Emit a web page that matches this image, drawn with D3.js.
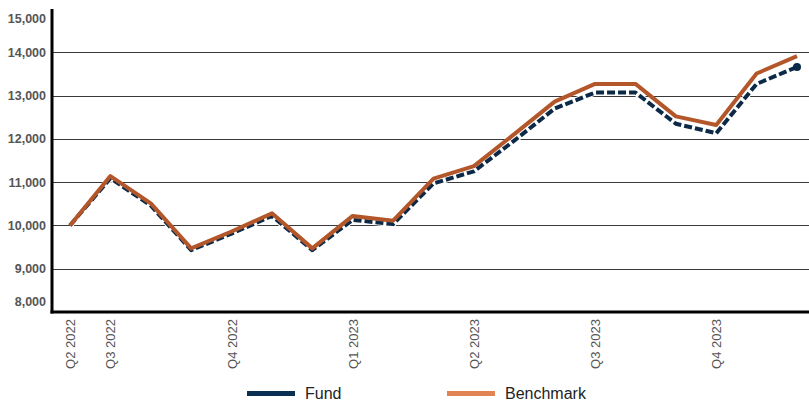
<!DOCTYPE html>
<html>
<head>
<meta charset="utf-8">
<script src="https://cdn.jsdelivr.net/npm/d3@7"></script>
<style>
  body { margin: 0; background: #fff; }
  svg { display: block; }
</style>
</head>
<body>
<div class="chart"></div>
<script>
// Data
var periodLabels = ["Q2 2022", "Q3 2022", "", "", "Q4 2022", "", "", "Q1 2023", "", "", "Q2 2023",
                    "", "", "Q3 2023", "", "", "Q4 2023", "", ""];
var fundValues = [10000, 11090, 10460, 9430, 9810, 10220, 9430, 10130, 10030, 10970,
                  11250, 11960, 12700, 13070, 13070, 12350, 12130, 13270, 13660];
var benchmarkValues = [10000, 11140, 10510, 9470, 9860, 10280, 9470, 10220, 10110, 11080,
                       11370, 12110, 12860, 13270, 13270, 12520, 12320, 13510, 13910];
var yTickValues = [8000, 9000, 10000, 11000, 12000, 13000, 14000, 15000];
var seriesNames = ["Fund", "Benchmark"];

var svgWidth = 809;
var svgHeight = 403;
var margin = { top: 9, right: 0, bottom: 91, left: 52 };
var width = svgWidth - margin.left - margin.right;
var height = svgHeight - margin.top - margin.bottom;

var svg = d3.select(".chart")
    .append("svg")
    .attr("width", svgWidth)
    .attr("height", svgHeight);

var chartGroup = svg.append("g")
    .attr("transform", `translate(${margin.left}, ${margin.top})`);

// Scales
var xScale = d3.scaleLinear()
    .domain([0, periodLabels.length - 1])
    .range([18, width - 12]);

var yScale = d3.scaleLinear()
    .domain([8000, 15000])
    .range([height, 0]);

// Gridlines (none at the top / bottom)
chartGroup.append("g")
    .selectAll("line")
    .data(yTickValues.slice(1, -1))
    .enter()
    .append("line")
    .attr("x1", 0)
    .attr("x2", width)
    .attr("y1", d => Math.round(yScale(d)) + 0.5)
    .attr("y2", d => Math.round(yScale(d)) + 0.5)
    .attr("stroke", "#3a3a3a")
    .attr("stroke-width", 1.2);

// Y axis labels
var leftAxis = d3.axisLeft(yScale)
    .tickValues(yTickValues)
    .tickFormat(d3.format(","))
    .tickSize(0)
    .tickPadding(6);

var yAxisG = chartGroup.append("g").call(leftAxis);
yAxisG.select(".domain").remove();
yAxisG.selectAll("text")
    .style("font-family", "'Liberation Sans', Arial, sans-serif")
    .style("font-size", "12.5px")
    .style("font-weight", "bold")
    .attr("fill", "#555");
// end labels are nudged inside the plot box
yAxisG.selectAll(".tick text")
    .attr("y", d => d === 15000 ? 9 : (d === 8000 ? -11 : 0));

// X axis labels
var bottomAxis = d3.axisBottom(xScale)
    .tickValues(d3.range(periodLabels.length).filter(i => periodLabels[i] !== ""))
    .tickFormat(i => periodLabels[i])
    .tickSize(0);

var xAxisG = chartGroup.append("g")
    .attr("transform", `translate(0, ${height})`)
    .call(bottomAxis);
xAxisG.select(".domain").remove();
xAxisG.selectAll("text")
    .attr("transform", "rotate(-90)")
    .attr("text-anchor", "end")
    .attr("x", -7)
    .attr("y", 0)
    .attr("dy", "0.35em")
    .style("font-family", "'Liberation Sans', Arial, sans-serif")
    .style("font-size", "13px")
    .attr("fill", "#555");

// Lines
var line = d3.line()
    .x((d, i) => xScale(i))
    .y(d => yScale(d));

// Fund: white halo under dashed navy line
chartGroup.append("path")
    .datum(fundValues)
    .attr("d", line)
    .attr("fill", "none")
    .attr("stroke", "#fff")
    .attr("stroke-width", 6)
    .attr("stroke-linejoin", "round");

chartGroup.append("path")
    .datum(fundValues)
    .attr("d", line)
    .attr("fill", "none")
    .attr("stroke", "#0c2a48")
    .attr("stroke-width", 4)
    .attr("stroke-dasharray", "8,3")
    .attr("stroke-linejoin", "round");

chartGroup.append("circle")
    .attr("cx", xScale(fundValues.length - 1))
    .attr("cy", yScale(fundValues[fundValues.length - 1]))
    .attr("r", 4)
    .attr("fill", "#0c2a48");

chartGroup.append("path")
    .datum(benchmarkValues)
    .attr("d", line)
    .attr("fill", "none")
    .attr("stroke", "#b3572b")
    .attr("stroke-width", 4)
    .attr("stroke-linejoin", "round");

// Axis lines
chartGroup.append("line")
    .attr("x1", 0).attr("x2", 0)
    .attr("y1", 0).attr("y2", height + 1.5)
    .attr("stroke", "#000")
    .attr("stroke-width", 3);

chartGroup.append("line")
    .attr("x1", -1.5).attr("x2", width)
    .attr("y1", height).attr("y2", height)
    .attr("stroke", "#000")
    .attr("stroke-width", 3);

// Legend
var legendColors = ["#0b2f52", "#e08456"];
var legendX = [247, 447];
var legend = svg.append("g");
legend.selectAll("rect")
    .data(seriesNames)
    .enter()
    .append("rect")
    .attr("x", (d, i) => legendX[i])
    .attr("y", 391)
    .attr("width", 48)
    .attr("height", 5)
    .attr("fill", (d, i) => legendColors[i]);

legend.selectAll("text")
    .data(seriesNames)
    .enter()
    .append("text")
    .attr("x", (d, i) => legendX[i] + 58)
    .attr("y", 399)
    .style("font-family", "'Liberation Sans', Arial, sans-serif")
    .style("font-size", "16px")
    .attr("fill", "#222")
    .text(d => d);
</script>
</body>
</html>
